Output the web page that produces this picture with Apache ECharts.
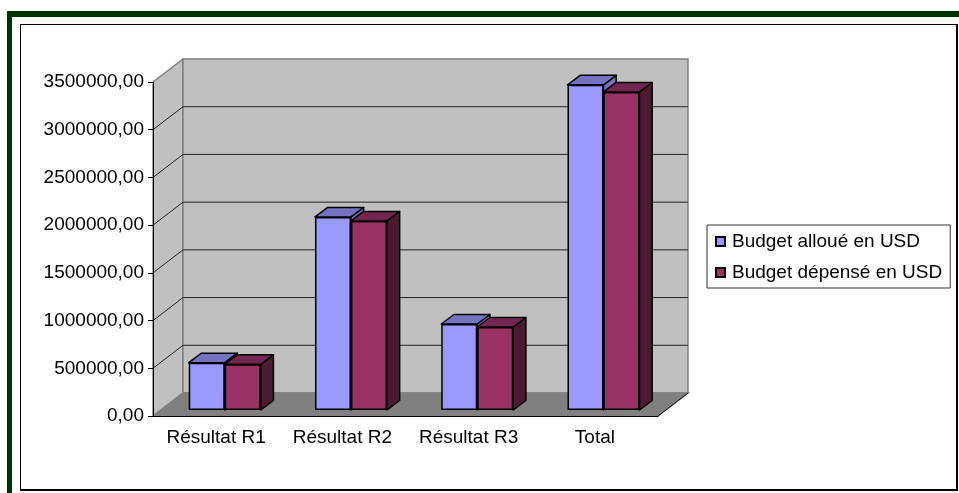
<!DOCTYPE html>
<html>
<head>
<meta charset="utf-8">
<title>Budget</title>
<script src="https://cdn.jsdelivr.net/npm/echarts@6/dist/echarts.min.js"></script>
<style>
  html, body { margin: 0; padding: 0; background: #fff; }
  #frame { position: absolute; left: 7px; top: 11px; right: 0; bottom: 0; border-top: 6px solid #003300; border-left: 5px solid #003300; }
  #inner { position: absolute; left: 20px; top: 24px; width: 935px; height: 464px; border: 1px solid #000; border-width: 1px 2px 2px 1px; }
  #chart { position: absolute; left: 0; top: 0; width: 959px; height: 493px; }
</style>
</head>
<body>
<div id="frame"></div>
<div id="inner"></div>
<div id="chart"></div>
<script>
const categories = ['Résultat R1', 'Résultat R2', 'Résultat R3', 'Total']
const budgetAlloue = [496000, 2023000, 901000, 3407000]
const budgetDepense = [479000, 1981000, 870000, 3333000]
const yTicks = [0, 500000, 1000000, 1500000, 2000000, 2500000, 3000000, 3500000]

const FONT = '"Liberation Sans", Arial, sans-serif'
const FONT_SIZE = 19
const BAR_W = 36
// profondeur du mur et des barres
const WALL_DX = 30
const WALL_DY = 23
const BAR_DX = 12.7
const BAR_DY = 9.5
const EDGE = '#808080'
const chart = echarts.init(document.getElementById('chart'))

// murs et sol
const renderWalls = (params, api) => {
  const c = params.coordSys
  const x0 = c.x, x1 = c.x + c.width, y0 = c.y, y1 = c.y + c.height
  const poly = (points, fill) => ({ type: 'polygon', shape: { points }, style: { fill, stroke: EDGE, lineWidth: 1.5 } })
  return {
    type: 'group',
    children: [
      poly([[x0, y0], [x0 + WALL_DX, y0 - WALL_DY], [x0 + WALL_DX, y1 - WALL_DY], [x0, y1]], '#C0C0C0'),
      poly([[x0 + WALL_DX, y0 - WALL_DY], [x1 + WALL_DX, y0 - WALL_DY], [x1 + WALL_DX, y1 - WALL_DY], [x0 + WALL_DX, y1 - WALL_DY]], '#C0C0C0'),
      poly([[x0, y1], [x0 + WALL_DX, y1 - WALL_DY], [x1 + WALL_DX, y1 - WALL_DY], [x1, y1]], '#808080'),
      { type: 'line', shape: { x1, y1, x2: x1 + WALL_DX, y2: y1 - WALL_DY }, style: { stroke: '#111', lineWidth: 1 } }
    ]
  }
}

// lignes de grille sur les deux murs
const renderGridLine = (params, api) => {
  const value = api.value(0)
  if (value === 0 || value === 3500000) return null
  const c = params.coordSys
  const y = api.coord([0, value])[1]
  const bx = c.x + WALL_DX, by = y - WALL_DY
  return {
    type: 'polyline',
    shape: { points: [[c.x, y], [bx, by], [c.x + c.width + WALL_DX, by]] },
    style: { fill: 'none', stroke: '#222', lineWidth: 1 }
  }
}

// faces du dessus et de droite, decal = position de la barre dans la categorie
const renderFaces = (decal, topColor, sideColor) => (params, api) => {
  const idx = api.value(0)
  const top = api.coord([idx, api.value(1)])
  const base = api.coord([idx, 0])
  const xl = top[0] + decal
  const xr = xl + BAR_W
  const yt = top[1], yb = base[1]
  const stroke = { stroke: '#000', lineWidth: 1.5, lineJoin: 'round' }
  return {
    type: 'group',
    children: [
      { type: 'polygon', shape: { points: [[xr, yb], [xr + BAR_DX, yb - BAR_DY], [xr + BAR_DX, yt - BAR_DY], [xr, yt]] }, style: { fill: sideColor, ...stroke } },
      { type: 'polygon', shape: { points: [[xl, yt], [xl + BAR_DX, yt - BAR_DY], [xr + BAR_DX, yt - BAR_DY], [xr, yt]] }, style: { fill: topColor, ...stroke } }
    ]
  }
}

const barStyle = color => ({ color, borderColor: '#000', borderWidth: 1.5 })
const toPairs = values => values.map((v, i) => [i, v])

chart.setOption({
  animation: false,
  backgroundColor: 'transparent',
  textStyle: { fontFamily: FONT },
  grid: [
    { left: 153, top: 82, width: 505, height: 334 },
    // grille decalee vers le fond pour poser les barres sur le sol
    { left: 161.6, top: 76, width: 505, height: 334 }
  ],
  xAxis: [
    {
      type: 'category', gridIndex: 0, data: categories, z: 1,
      axisLine: { lineStyle: { color: '#000', width: 1 } },
      axisTick: { alignWithLabel: false, length: 5, lineStyle: { color: '#000' } },
      axisLabel: { color: '#000', fontSize: FONT_SIZE, fontFamily: FONT, margin: 12, interval: 0, hideOverlap: false }
    },
    { type: 'category', gridIndex: 1, data: categories, show: false }
  ],
  yAxis: [
    {
      type: 'value', gridIndex: 0, min: 0, max: 3500000, interval: 500000, z: 1,
      axisLine: { show: true, lineStyle: { color: '#000', width: 1 } },
      axisTick: { show: true, length: 5, lineStyle: { color: '#000' } },
      splitLine: { show: false },
      axisLabel: { color: '#000', fontSize: FONT_SIZE, fontFamily: FONT, margin: 9, formatter: v => v + ',00' }
    },
    { type: 'value', gridIndex: 1, min: 0, max: 3500000, interval: 500000, show: false, splitLine: { show: false } }
  ],
  legend: {
    orient: 'vertical', left: 707, top: 225,
    data: ['Budget alloué en USD', 'Budget dépensé en USD'],
    icon: 'rect', itemWidth: 9, itemHeight: 9, itemGap: 12,
    padding: [7, 8, 6, 8],
    borderColor: '#333', borderWidth: 1, backgroundColor: '#fff',
    selectedMode: false,
    textStyle: { color: '#000', fontSize: FONT_SIZE, fontFamily: FONT, padding: [0, 0, 0, 2] }
  },
  series: [
    { type: 'bar', name: 'Budget alloué en USD', xAxisIndex: 1, yAxisIndex: 1, data: budgetAlloue, barWidth: BAR_W, barGap: 0, z: 5, itemStyle: barStyle('#9999FF') },
    { type: 'bar', name: 'Budget dépensé en USD', xAxisIndex: 1, yAxisIndex: 1, data: budgetDepense, barWidth: BAR_W, barGap: 0, z: 5, itemStyle: barStyle('#993366') },
    { type: 'custom', xAxisIndex: 0, yAxisIndex: 0, data: [[0]], z: 0, silent: true, renderItem: renderWalls },
    { type: 'custom', xAxisIndex: 0, yAxisIndex: 0, data: yTicks.map(v => [v]), encode: { y: 0 }, z: 0, silent: true, renderItem: renderGridLine },
    { type: 'custom', name: 'Budget alloué en USD', xAxisIndex: 1, yAxisIndex: 1, data: toPairs(budgetAlloue), z: 3, silent: true, renderItem: renderFaces(-BAR_W, '#7373BF', '#7373BF') },
    { type: 'custom', name: 'Budget dépensé en USD', xAxisIndex: 1, yAxisIndex: 1, data: toPairs(budgetDepense), z: 4, silent: true, renderItem: renderFaces(0, '#732650', '#4D1933') }
  ]
})

window.addEventListener('resize', () => chart.resize())
</script>
</body>
</html>
